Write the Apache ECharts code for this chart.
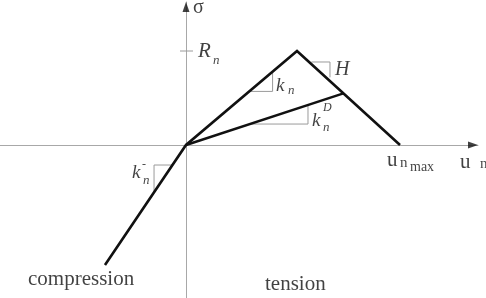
<!DOCTYPE html>
<html><head><meta charset="utf-8">
<script src="https://cdn.jsdelivr.net/npm/echarts@6/dist/echarts.min.js"></script>
<style>html,body{margin:0;padding:0;background:#fff}#c{width:486px;height:298px}</style>
</head><body><div id="c"></div>
<script>
// Envelope of the traction-separation law: compression end, origin, peak (R_n), u_n max
const envelopeU = [-0.73, 0, 1.0, 1.928];
const envelopeSigma = [-1.277, 0, 1.0, 0];
// Damaged (secant) branch k_n^D
const damageU = [0, 1.418];
const damageSigma = [0, 0.55];
// R_n tick on the sigma axis
const Rn = 1.0;
const tickU = [-0.054, 0.063];
// Slope indicator triangles
const knTriU = [0.57, 0.78, 0.78];
const knTriSigma = [0.57, 0.57, 0.78];
const kndTriU = [0.575, 1.099, 1.099];
const kndTriSigma = [0.223, 0.223, 0.426];
const hTriU = [1.13, 1.297, 1.297];
const hTriSigma = [0.883, 0.883, 0.72];
const kcTriU = [-0.122, -0.288, -0.288];
const kcTriSigma = [-0.213, -0.213, -0.504];

// Axis extents
const xMin = -1.6757, xMax = 2.6306, yMin = -1.6277, yMax = 1.5213;

const zip = (a, b) => a.map((v, i) => [v, b[i]]);

const SERIF = '"Liberation Serif", "DejaVu Serif", serif';
// text pieces: [text, u, sigma, fontSize, italic]
const labels = [
  ['σ', 0.063, 1.455, 20, false],
  ['R', 0.108, 0.995, 21, true],
  ['n', 0.243, 0.894, 13, true],
  ['k', 0.811, 0.628, 19, true],
  ['n', 0.919, 0.574, 13, true],
  ['H', 1.342, 0.798, 20, true],
  ['k', 1.135, 0.25, 19, true],
  ['D', 1.234, 0.394, 12, true],
  ['n', 1.234, 0.181, 13, true],
  ['k', -0.486, -0.293, 19, true],
  ['-', -0.396, -0.213, 12, false],
  ['n', -0.387, -0.383, 13, true],
  ['u', 1.811, -0.170, 21, false],
  ['n', 1.928, -0.191, 15, false],
  ['max', 2.018, -0.234, 14, false],
  ['u', 2.468, -0.181, 21, false],
  ['n', 2.649, -0.202, 15, false],
  ['compression', -1.423, -1.426, 21, false],
  ['tension', 0.712, -1.489, 21, false]
];

const triStyle = {color: '#9a9a9a', width: 1};
function tri(u, s, name) {
  return {name, type: 'line', data: zip(u, s), symbol: 'none', silent: true,
    lineStyle: triStyle, z: 2, animation: false};
}

const chart = echarts.init(document.getElementById('c'), null, {renderer: 'canvas'});
chart.setOption({
  animation: false,
  backgroundColor: '#fff',
  grid: {left: 0, right: 8, top: 2, bottom: 0},
  xAxis: {type: 'value', min: xMin, max: xMax,
    axisLine: {onZero: true, lineStyle: {color: '#a8a8a8', width: 1}},
    axisTick: {show: false}, axisLabel: {show: false}, splitLine: {show: false}},
  yAxis: {type: 'value', min: yMin, max: yMax,
    axisLine: {onZero: true, lineStyle: {color: '#a8a8a8', width: 1}},
    axisTick: {show: false}, axisLabel: {show: false}, splitLine: {show: false}},
  series: [
    tri(knTriU, knTriSigma, 'kn'),
    tri(kndTriU, kndTriSigma, 'knD'),
    tri(hTriU, hTriSigma, 'H'),
    tri(kcTriU, kcTriSigma, 'kn-'),
    {type: 'line', data: zip(tickU, [Rn, Rn]), symbol: 'none', silent: true,
      lineStyle: {color: '#9a9a9a', width: 1}, z: 2},
    {type: 'line', data: zip(envelopeU, envelopeSigma), symbol: 'none',
      lineStyle: {color: '#111', width: 2.6, join: 'miter'}, z: 5},
    {type: 'line', data: zip(damageU, damageSigma), symbol: 'none',
      lineStyle: {color: '#111', width: 2.4}, z: 5},
    {type: 'scatter', silent: true, z: 6, clip: false,
      data: [
        {value: [xMax, 0], symbol: 'path://M0,0 L10,5 L0,10 Z', symbolSize: [10, 7], symbolOffset: [-5, 0]},
        {value: [0, yMax], symbol: 'path://M5,0 L10,10 L0,10 Z', symbolSize: [7, 10], symbolOffset: [0, 5]}
      ],
      itemStyle: {color: '#111'}},
    {type: 'scatter', silent: true, symbolSize: 0, z: 7, clip: false,
      data: labels.map(([t, u, s, fs, it]) => ({
        value: [u, s],
        label: {show: true, position: 'right', distance: 0, formatter: t,
          fontFamily: SERIF, fontSize: fs, fontStyle: it ? 'italic' : 'normal',
          color: '#111', verticalAlign: 'middle', align: 'left'}
      }))}
  ]
});
</script></body></html>
